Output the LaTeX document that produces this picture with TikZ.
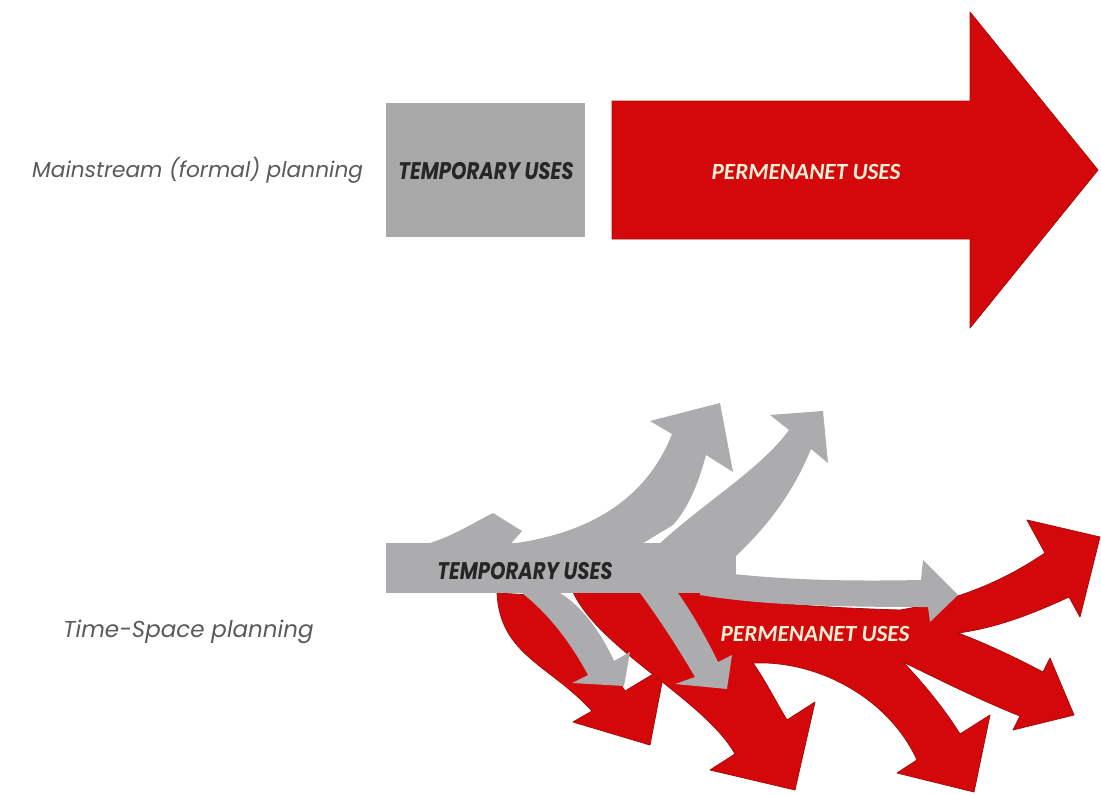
\documentclass[tikz,border=0pt]{standalone}
\usepackage{fontspec}
\usepackage{tikz}
\newfontfamily\labelfont{Poppins}
\newfontfamily\tempfont{Poppins}
\newfontfamily\permfont{Carlito}
\definecolor{usered}{RGB}{212,8,10}
\definecolor{useedge}{RGB}{165,12,12}
\definecolor{usegray}{RGB}{172,172,174}
\definecolor{boxgray}{RGB}{168,168,168}
\definecolor{labelgray}{RGB}{90,90,90}
\definecolor{cream}{RGB}{250,240,215}

\begin{document}
\begin{tikzpicture}[x=1pt, y=-1pt,
  redpart/.style={fill=usered, draw=useedge, line width=0.8pt, line join=round},
  graypart/.style={fill=usegray},
  sidelabel/.style={anchor=base west, inner sep=0pt, text=labelgray,
    font=\labelfont\itshape\fontsize{21.7}{26}\selectfont},
  templabel/.style={inner sep=0pt, xscale=0.82, text=black!85,
    font=\tempfont\bfseries\itshape\fontsize{24}{28}\selectfont},
  permlabel/.style={inner sep=0pt, text=cream,
    font=\permfont\bfseries\itshape\fontsize{23.2}{27}\selectfont}]
\useasboundingbox (0,0) rectangle (1101,795);
\fill[white] (0,0) rectangle (1101,795);

% mainstream planning
\node[sidelabel] (mainlbl) at (32,177) {Mainstream (formal) planning};
\fill[boxgray] (386,103) rectangle (585,237);
\node[templabel] (tmptop) at (486,171) {TEMPORARY USES};
\draw[redpart] (612,101) -- (970,101) -- (970,12) -- (1098,170) -- (970,328) -- (970,239) -- (612,239) -- cycle;
\node[permlabel] (permtop) at (806,172) {PERMENANET USES};

% time-space planning
\node[sidelabel, font=\labelfont\itshape\fontsize{23}{27}\selectfont] (tslbl) at (63,637) {Time-Space planning};

\draw[redpart] (497,593) -- (548,596) .. controls (575,625) and (605,660) .. (625,691) -- (665,667) -- (650,745) -- (573,722) -- (592,711) .. controls (550,665) and (500,655) .. (497,593) -- cycle;
\draw[redpart] (573,592) -- (622,590) -- (680,587)
  .. controls (720,600) and (800,607) .. (900,610)
  .. controls (960,600) and (1005,580) .. (1045,553)
  -- (1027,520) -- (1100,537) -- (1080,617) -- (1069,597)
  .. controls (1030,615) and (995,628) .. (958,633)
  .. controls (990,645) and (1020,660) .. (1043,672)
  -- (1050,658) -- (1074,715) -- (1013,730) -- (1020,716)
  .. controls (980,700) and (940,680) .. (903,662)
  .. controls (925,685) and (945,710) .. (960,734)
  -- (990,715) -- (974,792) -- (897,773) -- (917,760)
  .. controls (890,700) and (820,660) .. (753,663)
  .. controls (765,680) and (775,700) .. (787,720)
  -- (815,702) -- (795,790) -- (710,770) -- (735,754)
  .. controls (705,700) and (600,650) .. (573,592) -- cycle;

\fill[graypart] (386,543) rectangle (736,593);
\fill[graypart] (430,543) .. controls (455,535) and (475,522) .. (493,513) -- (522,531) -- (507,548) -- cycle;
\fill[graypart] (500,545) .. controls (600,535) and (650,490) .. (672,434) -- (650,421) -- (720,403) -- (733,472) -- (706,455) .. controls (698,485) and (688,508) .. (673,525) -- (640,545) -- cycle;
\fill[graypart] (655,548) .. controls (700,505) and (760,470) .. (789,430) -- (770,415) -- (823,411) -- (828,463) -- (811,449) .. controls (790,500) and (760,535) .. (724,567) -- (690,570) -- cycle;
\fill[graypart] (700,570) .. controls (760,578) and (820,582) .. (921,580) -- (923,560) -- (958,595) -- (930,622) -- (928,607) .. controls (830,607) and (760,605) .. (700,595) -- cycle;
\fill[graypart] (522,593) .. controls (550,615) and (572,645) .. (588,675) -- (572,683) -- (624,686) -- (630,652) -- (614,661) .. controls (600,630) and (580,605) .. (560,593) -- cycle;
\fill[graypart] (640,593) .. controls (660,620) and (678,648) .. (695,677) -- (675,684) -- (727,689) -- (732,655) -- (718,662) .. controls (705,635) and (690,610) .. (678,593) -- cycle;

\node[templabel] (tmpbot) at (525,571) {TEMPORARY USES};
\node[permlabel] (permbot) at (815,634) {PERMENANET USES};
\end{tikzpicture}
\end{document}
